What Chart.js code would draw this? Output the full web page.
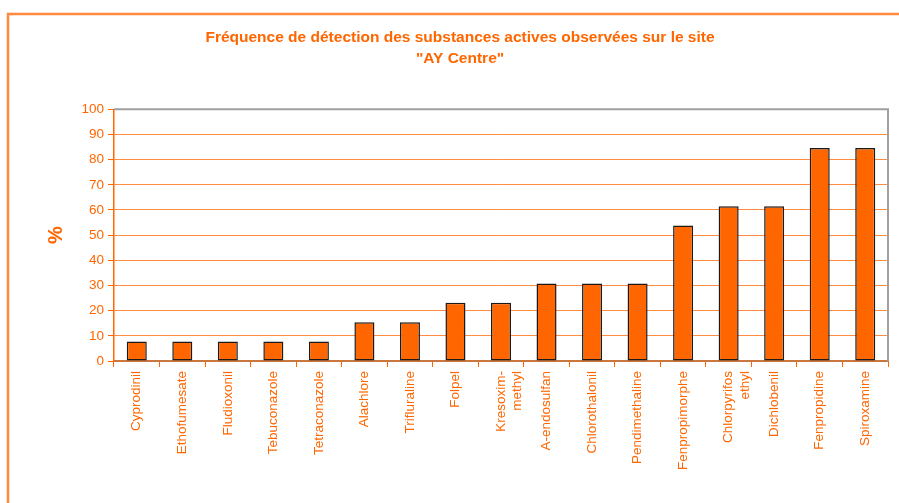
<!DOCTYPE html>
<html>
<head>
<meta charset="utf-8">
<script src="https://cdn.jsdelivr.net/npm/chart.js@4/dist/chart.umd.min.js"></script>
<style>
  html, body { margin: 0; padding: 0; background: #ffffff; }
  #wrap { position: relative; width: 899px; height: 503px; }
</style>
</head>
<body>
<div id="wrap"><canvas id="myChart" width="899" height="503"></canvas></div>
<script>
// substances (libellés de l'axe X)
const substances = [
    'Cyprodinil', 'Ethofumesate', 'Fludioxonil', 'Tebuconazole', 'Tetraconazole',
    'Alachlore', 'Trifluraline', 'Folpel', ['Kresoxim-', 'methyl'], 'A-endosulfan',
    'Chlorothalonil', 'Pendimethaline', 'Fenpropimorphe', ['Chlorpyrifos', 'ethyl'],
    'Dichlobenil', 'Fenpropidine', 'Spiroxamine'
];
// fréquence de détection (%)
const frequences = [7.7, 7.7, 7.7, 7.7, 7.7, 15.4, 15.4, 23.1, 23.1, 30.8, 30.8, 30.8, 53.8, 61.5, 61.5, 84.6, 84.6];
const titre = ['Fréquence de détection des substances actives observées sur le site', '"AY Centre"'];
const axeY = { min: 0, max: 100, pas: 10 };

const orange = '#ff6600';
const police = "'Liberation Sans', Arial, sans-serif";

// cadre orange + bordure grise en haut et à droite du graphique
const cadrePlugin = {
    id: 'cadre',
    beforeDraw(chart) {
        const c = chart.ctx;
        c.save();
        c.strokeStyle = '#ff8a3d';
        c.lineWidth = 2.5;
        c.beginPath();
        c.moveTo(8, 503);
        c.lineTo(8, 14);
        c.lineTo(899, 14);
        c.stroke();
        c.restore();
    },
    afterDatasetsDraw(chart) {
        const a = chart.chartArea;
        const c = chart.ctx;
        c.save();
        c.strokeStyle = '#a0a0a0';
        c.lineWidth = 2;
        c.beginPath();
        c.moveTo(a.left, a.top);
        c.lineTo(a.right, a.top);
        c.lineTo(a.right, a.bottom);
        c.stroke();
        c.restore();
    }
};

const ctx = document.getElementById('myChart').getContext('2d');
const myBarChart = new Chart(ctx, {
    type: 'bar',
    data: {
        labels: substances,
        datasets: [{
            data: frequences,
            backgroundColor: orange,
            borderColor: '#1a1a1a',
            borderWidth: 1.5,
            borderSkipped: false,
            barPercentage: 0.88,
            categoryPercentage: 0.5
        }]
    },
    options: {
        responsive: false,
        animation: false,
        layout: { padding: { left: 32, right: 11, top: 0, bottom: 0 } },
        plugins: {
            legend: { display: false },
            tooltip: { enabled: false },
            title: {
                display: true,
                text: titre,
                color: orange,
                font: { family: police, size: 15.5, weight: 'bold', lineHeight: 1.3 },
                padding: { top: 28, bottom: 41 }
            }
        },
        scales: {
            x: {
                grid: {
                    drawOnChartArea: false,
                    color: orange,
                    tickLength: 6,
                    offset: true
                },
                border: { color: '#c9773f', width: 2 },
                ticks: {
                    color: orange,
                    font: { family: police, size: 13.5, lineHeight: 1.2 },
                    maxRotation: 90,
                    minRotation: 90,
                    autoSkip: false,
                    padding: 4
                },
                afterFit(scale) { scale.height = 142; }
            },
            y: {
                min: axeY.min,
                max: axeY.max,
                ticks: {
                    stepSize: axeY.pas,
                    color: orange,
                    font: { family: police, size: 13.5 },
                    padding: 4
                },
                grid: {
                    color: (c) => c.tick && c.tick.value === axeY.max ? '#a0a0a0' : '#ff8c40',
                    tickColor: orange,
                    tickLength: 6
                },
                border: { color: orange, width: 1.5 },
                title: {
                    display: true,
                    text: '%',
                    color: orange,
                    font: { family: police, size: 20, weight: 'bold' },
                    padding: { top: 12, bottom: 0 }
                },
                afterFit(scale) { scale.width = 82; }
            }
        }
    },
    plugins: [cadrePlugin]
});
</script>
</body>
</html>
